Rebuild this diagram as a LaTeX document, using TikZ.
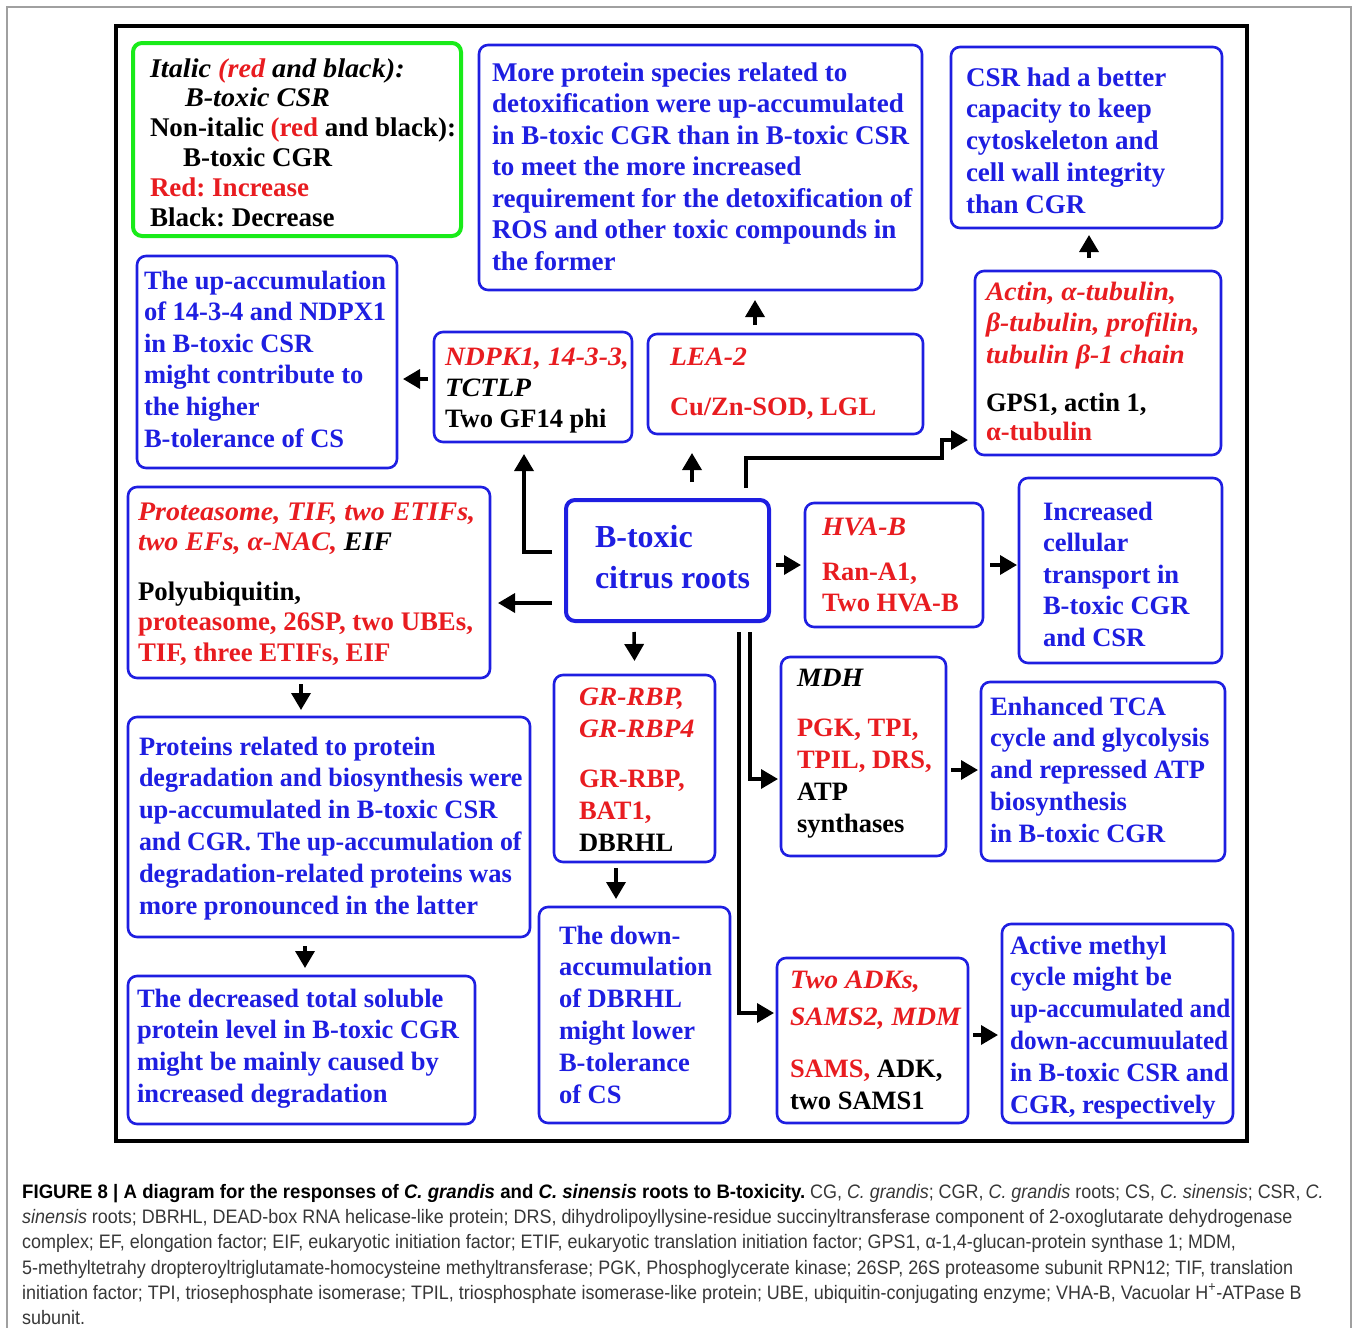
\documentclass[tikz,border=0pt]{standalone}
\usepackage{fontspec}
\usepackage{graphicx}
\setmainfont{Liberation Serif}[BoldItalicFeatures={FakeStretch=1.045}]
\newfontfamily\capfont[FakeStretch=0.92]{Liberation Sans}
\usetikzlibrary{arrows.meta,calc}
\definecolor{bblue}{RGB}{30,30,225}
\definecolor{rred}{RGB}{232,28,32}
\definecolor{lgreen}{RGB}{25,235,25}
\definecolor{capgray}{RGB}{55,55,55}
\definecolor{panelgray}{RGB}{160,160,160}
\newcommand{\R}[1]{\textcolor{rred}{#1}}
\newcommand{\K}[1]{\textcolor{black}{#1}}
\newcommand{\st}{\rule{0pt}{22pt}}
\newcommand{\cond}[2]{\scalebox{#1}[1]{#2}}
\tikzset{
  box/.style={draw=bblue, line width=2.6pt, rounded corners=9pt, inner sep=0pt, outer sep=0pt, anchor=north west},
  txt/.style={anchor=north west, inner sep=0pt, outer sep=0pt, align=left, text=bblue, font=\bfseries\fontsize{26.5}{#1}\selectfont},
  txt/.default=31.5,
  arr/.style={line width=3.5pt, -{Triangle[width=19pt,length=17pt]}},
  captxt/.style={anchor=base west, inner sep=0pt, text=capgray, font=\capfont\fontsize{19.5}{25}\selectfont}
}
\begin{document}
\frenchspacing
\begin{tikzpicture}[x=1pt,y=-1pt]
\useasboundingbox (0,0) rectangle (1358,1328);
% panel border and frame
\draw[panelgray, line width=1.2pt] (7,1330) -- (7,7) -- (1351,7) -- (1351,1330);
\draw[line width=4pt] (116,26) rectangle (1247,1141);

% boxes
\node[box, draw=lgreen, line width=4pt, minimum width=328pt, minimum height=193pt] (legend) at (133,43) {};
\node[box, minimum width=443pt, minimum height=245pt] (more) at (479,45) {};
\node[box, minimum width=271pt, minimum height=181pt] (csr) at (951,47) {};
\node[box, minimum width=260pt, minimum height=212pt] (up) at (137,256) {};
\node[box, minimum width=198pt, minimum height=110pt] (ndpk) at (434,332) {};
\node[box, minimum width=275pt, minimum height=100pt] (lea) at (648,334) {};
\node[box, minimum width=246pt, minimum height=184pt] (actin) at (975,271) {};
\node[box, line width=4pt, minimum width=203pt, minimum height=121pt] (btox) at (566,500) {};
\node[box, minimum width=362pt, minimum height=191pt] (prot) at (128,487) {};
\node[box, minimum width=178pt, minimum height=124pt] (hva) at (805,503) {};
\node[box, minimum width=203pt, minimum height=185pt] (inc) at (1019,478) {};
\node[box, minimum width=161pt, minimum height=187pt] (gr) at (554,675) {};
\node[box, minimum width=165pt, minimum height=199pt] (mdh) at (781,657) {};
\node[box, minimum width=244pt, minimum height=179pt] (enh) at (981,682) {};
\node[box, minimum width=402pt, minimum height=220pt] (rel) at (128,717) {};
\node[box, minimum width=191pt, minimum height=216pt] (down) at (539,907) {};
\node[box, minimum width=191pt, minimum height=165pt] (adk) at (777,958) {};
\node[box, minimum width=231pt, minimum height=199pt] (act) at (1002,924) {};
\node[box, minimum width=347pt, minimum height=148pt] (dec) at (128,976) {};

% texts
\node[txt, text=black, font=\bfseries\fontsize{27}{29.8}\selectfont] (legendt) at (150,55)
  {\st\textit{Italic \R{(red} and black):}\\
   \hspace*{35pt}\textit{B-toxic CSR}\\
   Non-italic \R{(red} and black):\\
   \hspace*{33pt}B-toxic CGR\\
   \R{Red: Increase}\\
   Black: Decrease};
\node[txt, font=\bfseries\fontsize{27}{31.5}\selectfont] (moret) at (492,59)
  {\st More protein species related to\\
   detoxification were up-accumulated\\
   in B-toxic CGR than in B-toxic CSR\\
   to meet the more increased\\
   requirement for the detoxification of\\
   ROS and other toxic compounds in\\
   the former};
\node[txt, font=\bfseries\fontsize{27}{31.75}\selectfont] (csrt) at (966,64)
  {\st CSR had a better\\
   capacity to keep\\
   cytoskeleton and\\
   cell wall integrity\\
   than CGR};
\node[txt=31.6] (upt) at (144,267)
  {\st The up-accumulation\\
   of 14-3-4 and NDPX1\\
   in B-toxic CSR\\
   might contribute to\\
   the higher\\
   B-tolerance of CS};
\node[txt=31] (ndpkt) at (445,343)
  {\st\R{\textit{NDPK1, 14-3-3,}}\\
   \K{\textit{TCTLP}}\\
   \K{Two GF14 phi}};
\node[txt=31.5] (leat) at (670,343)
  {\st\R{\textit{LEA-2}}\\[18.5pt]
   \R{Cu/Zn-SOD, LGL}};
\node[txt=31.5] (actint) at (986,278)
  {\st\R{\textit{Actin, α-tubulin,}}\\
   \R{\textit{β-tubulin, profilin,}}\\
   \R{\textit{tubulin β-1 chain}}\\[16.5pt]
   \K{GPS1, actin 1,}\\[-2.5pt]
   \R{α-tubulin}};
\node[txt, font=\bfseries\fontsize{32}{41}\selectfont] (btoxt) at (595,522)
  {\rule{0pt}{25pt}B-toxic\\
   citrus roots};
\node[txt, font=\bfseries\fontsize{26.8}{30.5}\selectfont] (prott) at (138,498)
  {\st\R{\textit{Proteasome, TIF, two ETIFs,}}\\
   \R{\textit{two EFs, α-NAC,}} \K{\textit{EIF}}\\[19pt]
   \K{Polyubiquitin,}\\
   \R{proteasome, 26SP, two UBEs,}\\
   \R{TIF, three ETIFs, EIF}};
\node[txt=31] (hvat) at (822,513)
  {\st\R{\textit{HVA-B}}\\[14pt]
   \R{Ran-A1,}\\
   \R{Two HVA-B}};
\node[txt=31.5] (inct) at (1043,498)
  {\st Increased\\
   cellular\\
   transport in\\
   B-toxic CGR\\
   and CSR};
\node[txt=32] (grt) at (579,683)
  {\st\R{\textit{GR-RBP,}}\\
   \R{\textit{GR-RBP4}}\\[18pt]
   \R{GR-RBP,}\\
   \R{BAT1,}\\
   \K{DBRHL}};
\node[txt=32] (mdht) at (797,664)
  {\st\K{\textit{MDH}}\\[18pt]
   \R{PGK, TPI,}\\
   \R{TPIL, DRS,}\\
   \K{ATP}\\
   \K{synthases}};
\node[txt=31.8] (enht) at (990,693)
  {\st Enhanced TCA\\
   cycle and glycolysis\\
   and repressed ATP\\
   biosynthesis\\
   in B-toxic CGR};
\node[txt=31.8] (relt) at (139,733)
  {\st Proteins related to protein\\
   \cond{0.982}{degradation and biosynthesis were}\\
   up-accumulated in B-toxic CSR\\
   \cond{0.975}{and CGR. The up-accumulation of}\\
   degradation-related proteins was\\
   more pronounced in the latter};
\node[txt=31.8] (downt) at (559,922)
  {\st The down-\\
   accumulation\\
   of DBRHL\\
   might lower\\
   B-tolerance\\
   of CS};
\node[txt=32] (adkt) at (790,966)
  {\st\R{\textit{Two ADKs,}}\\[5pt]
   \R{\textit{SAMS2, MDM}}\\[20pt]
   \R{SAMS,} \K{ADK,}\\
   \K{two SAMS1}};
\node[txt=31.8] (actt) at (1010,932)
  {\st Active methyl\\
   cycle might be\\
   \cond{0.95}{up-accumulated and}\\
   \cond{0.95}{down-accumuulated}\\
   in B-toxic CSR and\\
   CGR, respectively};
\node[txt=31.8] (dect) at (137,985)
  {\st The decreased total soluble\\
   protein level in B-toxic CGR\\
   might be mainly caused by\\
   increased degradation};

% connectors
\draw[arr] ($(lea.north)+(-30.5,-9)$) -- ($(lea.north |- more.south)+(-30.5,10)$);
\draw[arr] ($(actin.north)+(-9,-13)$) -- ($(actin.north |- csr.south)+(-9,7)$);
\draw[arr] ($(ndpk.west)+(-6,-8)$) -- ($(ndpk.west -| up.east)+(6,-8)$);
\draw[arr] ($(btox.west)+(-14,-8.5)$) -| ($(ndpk.south)+(-9,12)$);
\draw[arr] ($(btox.north)+(24.5,-18)$) -- ($(btox.north |- lea.south)+(24.5,19)$);
\coordinate (k1) at (942,458);
\draw[arr] ($(btox.north)+(78.5,-12)$) |- (k1) |- ($(actin.west)+(-7,77)$);
\draw[arr] ($(btox.west)+(-14,42.5)$) -- ($(btox.west -| prot.east)+(8,42.5)$);
\draw[arr] ($(btox.south)+(-33.5,11)$) -- ($(gr.north)+(0,-14)$);
\draw[arr] ($(btox.east)+(7,4.5)$) -- ($(hva.west)+(-4,0)$);
\draw[arr] ($(hva.east)+(7,0)$) -- ($(hva.east -| inc.west)+(-2,0)$);
\draw[arr] ($(btox.south)+(82.5,11)$) |- ($(mdh.west)+(-3,22.5)$);
\draw[arr] ($(btox.south)+(71.5,11)$) |- ($(adk.west)+(-3,-27.5)$);
\draw[arr] ($(mdh.east)+(5,13.5)$) -- ($(mdh.east -| enh.west)+(-3,13.5)$);
\draw[arr] ($(adk.east)+(5,-5.5)$) -- ($(adk.east -| act.west)+(-4,-5.5)$);
\draw[arr] ($(prot.south)+(-8,6)$) -- ($(prot.south |- rel.north)+(-8,-7)$);
\draw[arr] ($(rel.south)+(-24,9)$) -- ($(rel.south |- dec.north)+(-24,-8)$);
\draw[arr] ($(gr.south)+(-18.5,6)$) -- ($(gr.south |- down.north)+(-18.5,-8)$);

% caption
\node[captxt] (cap1) at (22,1198) {\cond{1.038}{\textbf{\color{black}FIGURE 8 | A diagram for the responses of \textit{C. grandis} and \textit{C. sinensis} roots to B-toxicity.}} CG, \textit{C. grandis}; CGR, \textit{C. grandis} roots; CS, \textit{C. sinensis}; CSR, \textit{C.}};
\node[captxt] (cap2) at (22,1223) {\textit{sinensis} roots; DBRHL, DEAD-box RNA helicase-like protein; DRS, dihydrolipoyllysine-residue succinyltransferase component of 2-oxoglutarate dehydrogenase};
\node[captxt] (cap3) at (22,1248) {complex; EF, elongation factor; EIF, eukaryotic initiation factor; ETIF, eukaryotic translation initiation factor; GPS1, α-1,4-glucan-protein synthase 1; MDM,};
\node[captxt] (cap4) at (22,1274) {5-methyltetrahy dropteroyltriglutamate-homocysteine methyltransferase; PGK, Phosphoglycerate kinase; 26SP, 26S proteasome subunit RPN12; TIF, translation};
\node[captxt] (cap5) at (22,1299) {initiation factor; TPI, triosephosphate isomerase; TPIL, triosphosphate isomerase-like protein; UBE, ubiquitin-conjugating enzyme; VHA-B, Vacuolar H\textsuperscript{+}-ATPase B};
\node[captxt] (cap6) at (22,1324) {subunit.};
\end{tikzpicture}
\end{document}
